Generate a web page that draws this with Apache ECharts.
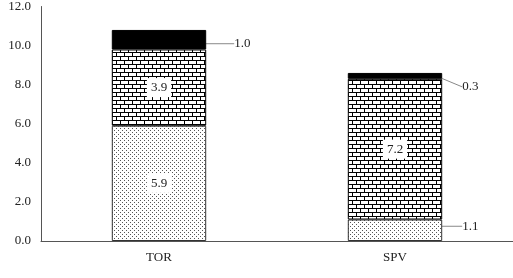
<!DOCTYPE html>
<html>
<head>
<meta charset="utf-8">
<script src="https://cdn.jsdelivr.net/npm/echarts@6/dist/echarts.min.js"></script>
<style>
html,body{margin:0;padding:0;background:#fff;}
#chart{width:513px;height:278px;}
</style>
</head>
<body>
<div id="chart"></div>
<script>
var categories = ['TOR', 'SPV'];
var bottomValues = [5.9, 1.1];
var middleValues = [3.9, 7.2];
var topValues = [1.0, 0.3];
var yMin = 0, yMax = 12, yInterval = 2;

function makeDots() {
  var c = document.createElement('canvas');
  c.width = 4; c.height = 4;
  var g = c.getContext('2d');
  g.fillStyle = '#fff'; g.fillRect(0, 0, 4, 4);
  g.fillStyle = '#555';
  g.fillRect(0, 0, 1, 1);
  g.fillRect(2, 2, 1, 1);
  return c;
}
function makeBricks() {
  var c = document.createElement('canvas');
  c.width = 8; c.height = 8;
  var g = c.getContext('2d');
  g.fillStyle = '#fff'; g.fillRect(0, 0, 8, 8);
  g.fillStyle = '#000';
  g.fillRect(0, 0, 8, 1);
  g.fillRect(0, 4, 8, 1);
  g.fillRect(0, 0, 1, 4);
  g.fillRect(4, 4, 1, 4);
  return c;
}

var FONT = 'Liberation Serif';
var fmt = function (p) { return Number(p.value).toFixed(1); };
var insideLabel = {
  show: true, position: 'inside', formatter: fmt,
  fontFamily: FONT, fontSize: 13, color: '#222',
  backgroundColor: '#fff', padding: [3, 4]
};
var outsideLabel = {
  show: true, position: 'right', formatter: fmt,
  fontFamily: FONT, fontSize: 13, color: '#222'
};
var guide = { show: true, lineStyle: { color: '#888', width: 1 } };

var offsets = {
  '0_1': { dx: 15, dy: -4 },
  '2_0': { dx: 23, dy: 4 },
  '2_1': { dx: 15, dy: 11 }
};

var chart = echarts.init(document.getElementById('chart'));
chart.setOption({
  animation: false,
  grid: { left: 41, right: 0, top: 2, bottom: 37 },
  xAxis: {
    type: 'category', data: categories,
    axisTick: { show: false },
    axisLine: { lineStyle: { color: '#555' } },
    axisLabel: { fontFamily: FONT, fontSize: 13, color: '#222', margin: 10 }
  },
  yAxis: {
    type: 'value', min: yMin, max: yMax, interval: yInterval,
    axisLine: { show: true, lineStyle: { color: '#555' } },
    axisTick: { show: false },
    splitLine: { show: false },
    axisLabel: {
      fontFamily: FONT, fontSize: 13, color: '#222', margin: 10,
      formatter: function (v) { return v.toFixed(1); }
    }
  },
  series: [
    {
      type: 'bar', stack: 's', barWidth: '40%',
      itemStyle: { color: { image: makeDots(), repeat: 'repeat' }, borderColor: '#333', borderWidth: 1 },
      data: bottomValues.map(function (v, i) {
        return { value: v, label: i === 0 ? insideLabel : outsideLabel, labelLine: i === 0 ? { show: false } : guide };
      }),
      labelLayout: function (p) { return offsets['0_' + p.dataIndex] || {}; }
    },
    {
      type: 'bar', stack: 's', barWidth: '40%',
      itemStyle: { color: { image: makeBricks(), repeat: 'repeat' }, borderColor: '#000', borderWidth: 1 },
      label: insideLabel,
      data: middleValues
    },
    {
      type: 'bar', stack: 's', barWidth: '40%',
      itemStyle: { color: '#000', borderColor: '#000', borderWidth: 1 },
      label: outsideLabel,
      labelLine: guide,
      data: topValues,
      labelLayout: function (p) { return offsets['2_' + p.dataIndex] || {}; }
    }
  ]
});
</script>
</body>
</html>
